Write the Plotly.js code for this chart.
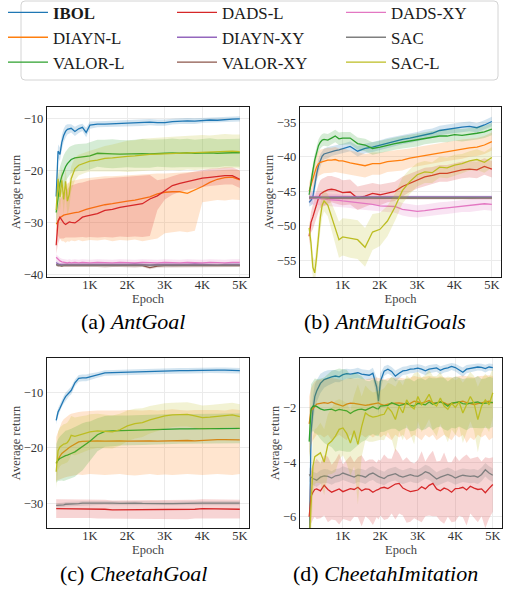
<!DOCTYPE html>
<html><head><meta charset="utf-8">
<script src="https://cdn.plot.ly/plotly-3.0.1.min.js"></script>
<style>body{margin:0;background:#fff;overflow:hidden} #chart{margin-top:-5px}</style>
</head><body>
<div id="chart" style="width:510px;height:595px"></div>
<script>
// ---------- x values (epochs) ----------
const epochsAnt = [100,150,200,250,300,350,400,450,500,600,700,800,900,1000,1200,1400,1600,1800,2000,2200,2400,2600,2800,3000,3200,3400,3600,3800,4000,4200,4400,4600,4800,5000];
const epochsImit = [100,150,200,250,300,400,500,600,700,800,900,1000,1100,1200,1300,1400,1500,1600,1700,1800,1900,1950,2000,2100,2200,2300,2400,2500,2600,2700,2800,2900,3000,3100,3200,3300,3400,3500,3600,3700,3800,3900,4000,4100,4200,4300,4400,4500,4600,4700,4800,4900,5000];
const xTickVals = [1000,2000,3000,4000,5000];
const xTickText = ['1K','2K','3K','4K','5K'];

// ---------- (a) AntGoal ----------
const antGoal_IBOL = [-24.9,-16.2,-16.8,-14.5,-13.2,-12.4,-12.0,-11.9,-11.8,-12.4,-11.9,-11.6,-12.6,-11.2,-11.0,-11.0,-10.95,-10.9,-10.85,-10.8,-10.75,-10.6,-10.7,-10.7,-10.5,-10.4,-10.35,-10.4,-10.3,-10.2,-10.25,-10.1,-10.05,-10.0];
const antGoal_IBOL_sd = [1.5,1.3,1.3,1.4,1.3,1.2,1.0,0.9,0.8,0.9,0.8,0.7,0.9,0.7,0.6,0.6,0.6,0.6,0.6,0.6,0.6,0.6,0.6,0.6,0.55,0.55,0.55,0.55,0.5,0.5,0.5,0.5,0.5,0.5];
const antGoal_DIAYNL = [-30.2,-29.8,-29.0,-28.7,-28.5,-28.4,-28.3,-28.2,-28.1,-28.0,-27.9,-27.6,-27.4,-27.2,-26.8,-26.5,-26.3,-26.0,-25.8,-25.6,-25.3,-25.0,-24.4,-24.1,-24.0,-24.0,-24.3,-23.7,-23.0,-22.2,-21.6,-21.3,-21.2,-21.7];
const antGoal_DIAYNL_lo = [-31.5,-32.5,-33.0,-33.5,-33.5,-33.8,-33.5,-33.6,-33.4,-33.5,-33.3,-33.5,-33.4,-33.3,-33.4,-33.2,-33.5,-33.3,-33.4,-33.2,-33.5,-33.3,-33.0,-32.0,-31.8,-31.6,-31.8,-31.5,-26.0,-25.8,-25.6,-25.7,-25.5,-25.6];
const antGoal_DIAYNL_hi = [-28.0,-26.0,-24.5,-23.5,-23.0,-22.6,-22.4,-22.2,-22.0,-21.8,-21.6,-21.5,-21.4,-21.3,-21.2,-21.0,-21.0,-20.9,-20.8,-20.8,-20.7,-20.6,-20.5,-20.5,-20.4,-20.3,-20.3,-20.2,-20.0,-19.9,-19.8,-19.8,-19.7,-19.8];
const antGoal_VALORL = [-28.0,-24.5,-22.4,-21.0,-20.0,-19.2,-18.6,-18.1,-17.8,-17.5,-17.4,-17.4,-17.3,-17.1,-16.6,-16.7,-16.7,-16.75,-16.7,-16.7,-16.65,-16.7,-16.6,-16.6,-16.55,-16.6,-16.5,-16.6,-16.55,-16.5,-16.6,-16.5,-16.5,-16.5];
const antGoal_VALORL_sd = [3.0,3.2,3.2,3.1,3.0,2.9,2.8,2.7,2.6,2.6,2.6,2.6,2.6,2.6,2.6,2.7,2.8,2.7,2.6,2.7,2.8,2.7,2.6,2.7,2.8,2.7,2.7,2.6,2.7,2.8,2.7,2.6,2.7,2.7];
const antGoal_DADSL = [-34.3,-29.6,-28.9,-29.6,-30.0,-30.3,-30.0,-29.8,-29.9,-30.0,-29.5,-28.9,-28.7,-28.5,-28.2,-27.6,-27.4,-27.0,-26.8,-26.6,-26.3,-25.4,-24.8,-23.8,-22.8,-22.4,-22.1,-21.7,-21.4,-21.25,-21.1,-20.9,-20.9,-21.6];
const antGoal_DADSL_lo = [-36.0,-34.0,-33.0,-33.0,-33.0,-32.8,-32.8,-32.8,-32.8,-32.8,-32.8,-32.7,-32.8,-32.7,-32.8,-32.7,-32.8,-32.6,-32.7,-32.6,-32.7,-32.5,-27.5,-25.5,-24.6,-24.0,-23.6,-23.3,-23.1,-22.9,-22.7,-22.6,-22.6,-23.3];
const antGoal_DADSL_hi = [-32.5,-27.0,-25.5,-25.0,-24.5,-24.0,-23.5,-23.0,-22.8,-22.5,-22.3,-22.2,-22.0,-21.8,-21.6,-21.4,-21.3,-21.2,-21.1,-21.0,-20.9,-20.8,-21.8,-21.5,-21.0,-20.6,-20.4,-20.1,-19.8,-19.6,-19.5,-19.3,-19.3,-19.9];
const antGoal_DIAYNXY = [-37.6,-37.9,-38.0,-38.0,-38.1,-38.0,-38.0,-38.1,-38.0,-38.0,-38.1,-38.0,-38.0,-38.1,-38.0,-38.0,-38.1,-38.0,-38.0,-37.9,-38.0,-38.1,-38.0,-38.0,-38.1,-38.0,-38.0,-37.9,-38.0,-38.0,-38.1,-38.0,-38.0,-38.0];
const antGoal_DIAYNXY_sd = [0.4,0.35,0.3,0.3,0.3,0.3,0.3,0.3,0.3,0.3,0.3,0.3,0.3,0.3,0.3,0.3,0.3,0.3,0.3,0.3,0.3,0.3,0.3,0.3,0.3,0.3,0.3,0.3,0.3,0.3,0.3,0.3,0.3,0.3];
const antGoal_VALORXY = [-38.0,-38.2,-38.2,-38.3,-38.2,-38.2,-38.3,-38.2,-38.2,-38.3,-38.2,-38.2,-38.3,-38.2,-38.2,-38.3,-38.2,-38.2,-38.2,-38.3,-38.2,-38.6,-38.3,-38.2,-38.2,-38.3,-38.2,-38.2,-38.3,-38.2,-38.2,-38.3,-38.2,-38.2];
const antGoal_VALORXY_sd = [0.3,0.3,0.3,0.3,0.3,0.3,0.3,0.3,0.3,0.3,0.3,0.3,0.3,0.3,0.3,0.3,0.3,0.3,0.3,0.3,0.3,0.3,0.3,0.3,0.3,0.3,0.3,0.3,0.3,0.3,0.3,0.3,0.3,0.3];
const antGoal_DADSXY = [-36.6,-37.0,-37.3,-37.5,-37.6,-37.6,-37.7,-37.6,-37.7,-37.6,-37.7,-37.6,-37.7,-37.7,-37.6,-37.7,-37.7,-37.6,-37.7,-37.7,-37.6,-37.7,-37.7,-37.6,-37.7,-37.7,-37.6,-37.7,-37.7,-37.6,-37.7,-37.7,-37.6,-37.6];
const antGoal_DADSXY_sd = [0.6,0.6,0.6,0.6,0.6,0.6,0.6,0.6,0.6,0.6,0.6,0.6,0.6,0.6,0.6,0.6,0.6,0.6,0.6,0.6,0.6,0.6,0.6,0.6,0.6,0.6,0.6,0.6,0.6,0.6,0.6,0.6,0.6,0.6];
const antGoal_SAC = [-38.0,-38.1,-38.1,-38.2,-38.1,-38.1,-38.2,-38.1,-38.1,-38.2,-38.1,-38.1,-38.2,-38.1,-38.1,-38.2,-38.1,-38.1,-38.2,-38.1,-38.1,-38.2,-38.1,-38.1,-38.2,-38.1,-38.1,-38.2,-38.1,-38.1,-38.2,-38.1,-38.1,-38.1];
const antGoal_SAC_sd = [0.3,0.3,0.3,0.3,0.3,0.3,0.3,0.3,0.3,0.3,0.3,0.3,0.3,0.3,0.3,0.3,0.3,0.3,0.3,0.3,0.3,0.3,0.3,0.3,0.3,0.3,0.3,0.3,0.3,0.3,0.3,0.3,0.3,0.3];
const antGoal_SACL = [-27.5,-21.5,-25.0,-21.8,-25.5,-22.0,-25.8,-24.5,-21.5,-19.6,-18.9,-18.6,-18.3,-18.1,-17.9,-17.6,-17.5,-17.3,-17.2,-17.1,-16.9,-16.8,-16.75,-16.7,-16.6,-16.6,-16.5,-16.5,-16.4,-16.4,-16.3,-16.2,-16.2,-16.3];
const antGoal_SACL_sd = [2.5,2.5,2.8,2.6,2.8,2.6,2.8,2.6,2.4,2.2,2.0,2.0,2.0,2.0,2.2,2.4,2.6,2.8,3.0,3.0,3.1,3.1,3.2,3.2,3.2,3.3,3.2,3.3,3.3,3.2,3.3,3.3,3.2,3.3];

// ---------- (b) AntMultiGoals ----------
const antMulti_IBOL = [-46.6,-46.3,-45.8,-44.0,-42.5,-41.3,-40.5,-39.9,-39.6,-39.4,-39.2,-39.1,-39.0,-38.8,-38.5,-39.2,-38.8,-38.6,-38.3,-38.0,-37.8,-37.5,-37.3,-37.1,-36.8,-36.6,-36.2,-36.0,-35.9,-35.7,-35.6,-35.8,-35.4,-34.9];
const antMulti_IBOL_sd = [0.6,0.8,1.0,1.2,1.2,1.0,0.9,0.8,0.8,0.8,0.7,0.7,0.7,0.7,0.7,0.75,0.7,0.7,0.7,0.7,0.7,0.7,0.7,0.7,0.7,0.7,0.7,0.7,0.7,0.7,0.7,0.7,0.7,0.7];
const antMulti_DIAYNL = [-45.0,-44.0,-43.2,-42.3,-41.5,-41.0,-40.8,-40.7,-40.6,-40.5,-40.5,-40.4,-40.6,-40.6,-40.9,-41.1,-41.3,-41.0,-41.0,-40.7,-40.6,-40.5,-40.2,-40.0,-39.8,-39.6,-39.4,-39.2,-39.0,-38.9,-38.7,-38.6,-38.3,-37.8];
const antMulti_DIAYNL_sd = [1.2,1.4,1.6,1.8,1.8,1.8,1.8,1.8,1.8,1.8,1.8,1.8,1.8,1.8,1.8,1.7,1.7,1.6,1.6,1.5,1.5,1.5,1.4,1.4,1.4,1.4,1.4,1.4,1.4,1.4,1.3,1.3,1.3,1.3];
const antMulti_VALORL = [-45.5,-43.5,-42.0,-40.5,-39.2,-38.4,-37.9,-37.6,-37.5,-37.6,-37.3,-37.0,-37.4,-37.3,-37.3,-38.1,-38.3,-38.8,-38.6,-38.3,-38.1,-37.9,-37.7,-37.6,-37.3,-37.1,-37.0,-37.0,-36.8,-36.9,-36.8,-36.6,-36.4,-36.0];
const antMulti_VALORL_sd = [0.9,0.9,0.9,0.9,0.9,0.9,0.9,0.9,0.9,0.9,0.9,0.9,0.9,0.9,0.9,0.9,0.9,0.9,0.9,0.9,0.9,0.9,0.9,0.9,0.9,0.9,0.9,0.9,0.9,0.9,0.9,0.9,0.9,0.9];
const antMulti_DADSL = [-51.5,-49.5,-48.7,-47.7,-46.9,-46.0,-45.4,-45.2,-45.05,-44.8,-44.7,-44.8,-45.0,-45.2,-45.1,-46.0,-45.7,-45.3,-45.5,-45.2,-45.0,-44.3,-43.8,-43.3,-42.9,-42.7,-42.4,-42.4,-42.1,-41.9,-41.8,-41.9,-41.4,-41.8];
const antMulti_DADSL_sd = [1.3,1.5,1.8,2.0,2.0,2.0,2.0,2.0,2.0,2.0,1.9,1.9,1.9,1.8,1.8,1.7,1.6,1.5,1.5,1.4,1.4,1.4,1.3,1.3,1.3,1.2,1.2,1.2,1.2,1.2,1.2,1.2,1.2,1.2];
const antMulti_DIAYNXY = [-45.8,-45.8,-45.8,-45.8,-45.8,-45.8,-45.8,-45.8,-45.8,-45.8,-45.8,-45.8,-45.8,-45.8,-45.8,-45.8,-45.8,-45.8,-45.8,-45.8,-45.8,-45.8,-45.8,-45.8,-45.8,-45.8,-45.8,-45.8,-45.8,-45.8,-45.8,-45.8,-45.8,-45.8];
const antMulti_DIAYNXY_sd = [0.2,0.2,0.2,0.2,0.2,0.2,0.2,0.2,0.2,0.2,0.2,0.2,0.2,0.2,0.2,0.2,0.2,0.2,0.2,0.2,0.2,0.2,0.2,0.2,0.2,0.2,0.2,0.2,0.2,0.2,0.2,0.2,0.2,0.2];
const antMulti_VALORXY = [-46.0,-46.0,-46.0,-46.0,-46.0,-46.0,-46.0,-46.0,-46.0,-46.0,-46.0,-46.0,-46.0,-46.0,-46.0,-46.0,-46.0,-46.0,-46.0,-46.0,-46.0,-46.0,-46.0,-46.0,-46.0,-46.0,-46.0,-46.0,-46.0,-46.0,-46.0,-46.0,-46.0,-46.0];
const antMulti_VALORXY_sd = [0.2,0.2,0.2,0.2,0.2,0.2,0.2,0.2,0.2,0.2,0.2,0.2,0.2,0.2,0.2,0.2,0.2,0.2,0.2,0.2,0.2,0.2,0.2,0.2,0.2,0.2,0.2,0.2,0.2,0.2,0.2,0.2,0.2,0.2];
const antMulti_DADSXY = [-45.9,-46.0,-46.0,-46.0,-46.0,-46.0,-46.1,-46.1,-46.1,-46.2,-46.2,-46.3,-46.3,-46.4,-46.5,-46.7,-46.8,-46.9,-47.1,-47.1,-47.2,-47.6,-47.8,-47.9,-47.8,-47.6,-47.5,-47.4,-47.3,-47.1,-47.1,-47.0,-46.8,-46.9];
const antMulti_DADSXY_sd = [0.8,0.9,0.9,0.9,0.9,0.9,0.9,0.9,0.9,0.9,0.9,0.9,0.9,0.9,0.9,0.9,0.9,0.9,0.9,0.9,0.9,0.9,0.9,0.9,0.9,0.9,0.9,0.9,0.9,0.9,0.9,0.9,0.9,0.9];
const antMulti_SAC = [-45.9,-45.9,-45.9,-45.9,-45.9,-45.9,-45.9,-45.9,-45.9,-45.9,-45.9,-45.9,-45.9,-45.9,-45.9,-45.9,-45.9,-45.9,-45.9,-45.9,-45.9,-45.9,-45.9,-45.9,-45.9,-45.9,-45.9,-45.9,-45.9,-45.9,-45.9,-45.9,-45.9,-45.9];
const antMulti_SAC_sd = [0.2,0.2,0.2,0.2,0.2,0.2,0.2,0.2,0.2,0.2,0.2,0.2,0.2,0.2,0.2,0.2,0.2,0.2,0.2,0.2,0.2,0.2,0.2,0.2,0.2,0.2,0.2,0.2,0.2,0.2,0.2,0.2,0.2,0.2];
const antMulti_SACL = [-50.3,-52.5,-56.0,-56.8,-54.5,-51.5,-48.8,-47.0,-46.4,-47.0,-48.6,-50.3,-52.0,-51.6,-51.8,-52.0,-53.1,-50.9,-50.5,-49.3,-47.3,-44.9,-43.6,-42.6,-42.2,-42.3,-41.5,-41.6,-41.2,-41.0,-40.6,-40.4,-40.8,-40.1];
const antMulti_SACL_sd = [1.0,1.3,1.6,1.8,2.0,2.0,2.0,1.8,1.5,1.6,2.0,2.3,2.6,2.7,2.8,2.8,2.8,2.6,2.4,2.2,2.0,1.9,1.8,1.7,1.6,1.5,1.5,1.5,1.5,1.4,1.4,1.5,1.5,1.5];

// ---------- (c) CheetahGoal ----------
const cheetahGoal_IBOL = [-15.0,-13.5,-12.8,-11.9,-11.3,-10.7,-10.3,-9.9,-9.6,-8.2,-7.4,-7.3,-7.3,-7.1,-6.8,-6.4,-6.35,-6.3,-6.25,-6.2,-6.2,-6.15,-6.15,-6.1,-6.05,-6.0,-6.0,-5.95,-5.95,-5.9,-5.9,-5.9,-5.95,-6.0];
const cheetahGoal_IBOL_sd = [0.7,0.7,0.7,0.7,0.7,0.7,0.7,0.7,0.7,0.6,0.6,0.6,0.6,0.6,0.5,0.5,0.5,0.5,0.5,0.5,0.5,0.5,0.5,0.5,0.5,0.5,0.5,0.5,0.5,0.5,0.5,0.5,0.5,0.5];
const cheetahGoal_DIAYNL = [-22.8,-22.0,-21.5,-21.0,-20.7,-20.4,-20.2,-19.9,-19.7,-19.3,-18.9,-18.8,-18.75,-18.7,-18.7,-18.75,-18.7,-18.7,-18.75,-18.7,-18.7,-18.7,-18.75,-18.7,-18.7,-18.7,-18.65,-18.7,-18.6,-18.6,-18.5,-18.5,-18.5,-18.55];
const cheetahGoal_DIAYNL_lo = [-26.0,-25.8,-25.6,-25.5,-25.4,-25.3,-25.2,-25.1,-25.0,-24.9,-24.8,-24.9,-24.8,-24.7,-24.8,-24.9,-24.8,-24.7,-24.9,-25.0,-24.8,-24.7,-24.9,-24.8,-24.9,-24.8,-24.7,-24.8,-24.9,-24.8,-24.7,-24.8,-24.9,-24.7];
const cheetahGoal_DIAYNL_hi = [-18.0,-17.0,-16.0,-15.3,-14.8,-14.5,-14.2,-14.0,-13.8,-13.6,-13.5,-13.4,-13.3,-13.3,-13.2,-13.2,-13.3,-13.2,-13.1,-13.2,-13.2,-13.1,-13.2,-13.1,-13.0,-13.1,-13.2,-13.1,-13.1,-13.0,-13.1,-13.2,-13.0,-13.1];
const cheetahGoal_VALORL = [-22.8,-22.2,-21.9,-21.7,-21.6,-21.4,-21.3,-21.1,-21.0,-20.7,-20.2,-19.8,-19.3,-18.8,-17.6,-17.0,-16.9,-16.85,-16.8,-16.75,-16.75,-16.7,-16.65,-16.6,-16.6,-16.55,-16.55,-16.5,-16.5,-16.5,-16.5,-16.45,-16.45,-16.45];
const cheetahGoal_VALORL_sd = [3.5,3.8,4.0,4.2,4.4,4.5,4.5,4.5,4.5,4.5,4.4,4.3,4.0,3.6,3.0,2.8,2.8,2.7,2.7,2.7,2.7,2.7,2.7,2.7,2.7,2.7,2.7,2.7,2.7,2.7,2.7,2.7,2.7,2.7];
const cheetahGoal_DADSL = [-31.0,-31.0,-31.1,-31.1,-31.1,-31.0,-31.0,-31.1,-31.0,-31.1,-31.1,-31.0,-31.0,-31.0,-31.1,-31.1,-31.2,-31.2,-31.2,-31.2,-31.1,-31.1,-31.1,-31.1,-31.1,-31.2,-31.2,-31.1,-31.0,-31.0,-31.0,-31.1,-31.1,-31.1];
const cheetahGoal_DADSL_sd = [1.7,1.7,1.7,1.7,1.7,1.7,1.7,1.7,1.7,1.7,1.7,1.7,1.7,1.7,1.7,1.7,1.7,1.7,1.7,1.7,1.7,1.7,1.7,1.7,1.7,1.7,1.7,1.7,1.7,1.7,1.7,1.7,1.7,1.7];
const cheetahGoal_SAC = [-30.4,-30.4,-30.3,-30.3,-30.3,-30.2,-30.2,-30.2,-30.2,-30.1,-30.1,-30.0,-30.0,-30.0,-29.95,-29.9,-30.0,-30.05,-30.0,-30.0,-30.05,-30.1,-30.05,-30.1,-30.1,-30.05,-30.0,-30.05,-30.0,-30.0,-30.05,-30.0,-30.0,-30.0];
const cheetahGoal_SAC_sd = [0.4,0.4,0.4,0.4,0.4,0.4,0.4,0.4,0.4,0.4,0.4,0.4,0.4,0.4,0.4,0.4,0.4,0.4,0.4,0.4,0.4,0.4,0.4,0.4,0.4,0.4,0.4,0.4,0.4,0.4,0.4,0.4,0.4,0.4];
const cheetahGoal_SACL = [-24.3,-20.5,-19.8,-19.5,-19.3,-19.2,-19.0,-18.5,-17.7,-17.9,-17.7,-17.5,-17.3,-17.1,-16.9,-17.0,-17.1,-16.7,-16.0,-15.6,-15.4,-14.9,-14.5,-14.2,-14.0,-13.9,-13.9,-14.2,-14.5,-14.4,-14.3,-14.1,-14.0,-14.3];
const cheetahGoal_SACL_sd = [3.0,3.5,3.5,3.5,3.6,3.6,3.6,3.6,3.5,3.4,3.4,3.3,3.2,3.2,3.1,3.0,3.0,2.9,2.8,2.7,2.6,2.5,2.4,2.3,2.2,2.2,2.2,2.2,2.2,2.2,2.2,2.2,2.2,2.2];

// ---------- (d) CheetahImitation ----------
const cheetahImit_IBOL = [-7.5,-2.9,-2.1,-1.6,-1.4,-1.12,-0.98,-0.92,-0.88,-0.85,-0.88,-0.8,-0.76,-0.78,-0.76,-0.73,-0.78,-0.8,-0.82,-0.75,-1.25,-1.77,-1.05,-0.67,-0.6,-0.68,-0.85,-0.75,-0.66,-0.64,-0.6,-0.59,-0.56,-0.6,-0.66,-0.6,-0.58,-0.55,-0.64,-0.58,-0.55,-0.5,-0.54,-0.62,-0.71,-0.6,-0.57,-0.55,-0.52,-0.53,-0.58,-0.52,-0.54];
const cheetahImit_IBOL_sd = [0.8,0.6,0.5,0.45,0.4,0.35,0.3,0.28,0.25,0.22,0.2,0.2,0.18,0.18,0.18,0.18,0.18,0.18,0.18,0.2,0.35,0.5,0.3,0.18,0.16,0.16,0.2,0.18,0.15,0.15,0.15,0.15,0.14,0.15,0.16,0.15,0.14,0.14,0.15,0.14,0.14,0.13,0.14,0.15,0.17,0.15,0.14,0.13,0.13,0.13,0.14,0.13,0.13];
const cheetahImit_DIAYNL = [-2.6,-2.1,-2.05,-1.95,-1.88,-1.85,-1.82,-1.85,-1.8,-1.86,-1.9,-1.95,-1.88,-1.84,-1.85,-1.87,-1.88,-1.92,-1.9,-1.88,-1.84,-1.83,-1.88,-1.92,-1.88,-1.85,-1.84,-1.83,-1.85,-1.88,-1.85,-1.77,-1.8,-1.84,-1.8,-1.74,-1.82,-1.84,-1.78,-1.82,-1.89,-1.86,-1.84,-1.8,-1.77,-1.82,-1.85,-1.89,-1.86,-1.83,-1.8,-1.77,-1.84];
const cheetahImit_DIAYNL_lo = [-3.8,-3.4,-3.2,-3.1,-3.0,-3.0,-3.1,-3.0,-3.2,-3.1,-3.0,-3.1,-3.2,-3.0,-3.1,-3.2,-3.0,-3.1,-3.0,-3.1,-3.0,-3.0,-3.1,-3.0,-3.1,-3.2,-3.0,-3.1,-3.0,-3.2,-3.1,-3.0,-3.1,-3.2,-3.0,-3.1,-3.0,-3.2,-3.1,-3.0,-3.1,-3.2,-3.0,-3.1,-3.0,-3.3,-3.1,-3.2,-3.0,-3.1,-3.0,-3.2,-3.1];
const cheetahImit_DIAYNL_hi = [-1.6,-1.3,-1.15,-1.05,-1.0,-0.98,-0.95,-0.95,-0.92,-0.95,-0.98,-1.0,-0.95,-0.92,-0.95,-0.93,-0.95,-0.97,-0.95,-0.92,-0.9,-0.92,-0.95,-0.98,-0.93,-0.9,-0.92,-0.9,-0.93,-0.95,-0.9,-0.85,-0.88,-0.9,-0.88,-0.85,-0.88,-0.9,-0.86,-0.88,-0.92,-0.9,-0.88,-0.85,-0.83,-0.86,-0.88,-0.9,-0.86,-0.85,-0.83,-0.82,-0.85];
const cheetahImit_VALORL = [-3.25,-2.05,-1.95,-1.94,-1.96,-2.05,-2.1,-2.08,-2.06,-2.12,-2.07,-2.1,-2.12,-2.22,-2.13,-2.08,-2.06,-2.1,-2.04,-1.97,-2.04,-2.05,-1.95,-1.94,-1.92,-1.83,-1.88,-1.93,-1.9,-1.84,-1.92,-1.95,-1.85,-1.88,-1.9,-1.8,-1.88,-1.83,-1.8,-1.86,-1.95,-1.84,-1.82,-1.8,-1.86,-1.88,-1.84,-1.83,-1.8,-1.86,-1.84,-1.83,-1.81];
const cheetahImit_VALORL_sd = [0.8,0.9,0.9,1.0,1.0,1.1,1.2,1.3,1.4,1.5,1.5,1.5,1.5,1.4,1.4,1.3,1.2,1.1,1.0,1.0,1.0,1.0,0.95,0.95,0.9,0.95,0.9,0.95,0.9,0.9,0.95,0.9,0.9,0.95,0.9,0.9,0.95,0.9,0.9,0.95,0.9,0.9,0.95,0.9,0.9,0.95,0.9,0.9,0.95,0.9,0.9,0.95,0.9];
const cheetahImit_DADSL = [-6.0,-5.25,-5.1,-5.0,-4.98,-5.05,-4.85,-5.0,-5.1,-5.03,-4.98,-5.08,-5.02,-4.97,-5.0,-4.92,-5.05,-4.98,-5.0,-5.1,-5.02,-5.0,-4.95,-4.92,-4.97,-4.88,-4.8,-4.78,-4.95,-5.02,-5.08,-5.05,-5.02,-4.9,-4.98,-4.85,-4.78,-4.98,-5.05,-4.95,-5.0,-5.1,-4.97,-4.96,-4.92,-5.02,-4.88,-4.95,-5.0,-4.98,-5.12,-4.96,-4.82];
const cheetahImit_DADSL_sd = [0.9,1.0,1.0,1.0,1.1,1.0,1.1,1.2,1.0,1.1,1.3,1.0,1.1,1.2,1.0,1.1,1.3,1.0,1.1,1.2,1.0,1.1,1.0,1.2,1.1,1.0,1.3,1.1,1.0,1.2,1.1,1.0,1.1,1.3,1.0,1.1,1.2,1.0,1.1,1.3,1.0,1.1,1.2,1.0,1.1,1.3,1.0,1.1,1.2,1.0,1.3,1.1,1.0];
const cheetahImit_SAC = [-4.45,-4.55,-4.6,-4.62,-4.66,-4.55,-4.5,-4.52,-4.58,-4.5,-4.48,-4.4,-4.45,-4.5,-4.55,-4.48,-4.5,-4.55,-4.45,-4.4,-4.5,-4.52,-4.55,-4.6,-4.5,-4.45,-4.42,-4.5,-4.55,-4.5,-4.46,-4.5,-4.52,-4.45,-4.35,-4.4,-4.5,-4.62,-4.55,-4.5,-4.45,-4.5,-4.58,-4.52,-4.48,-4.5,-4.52,-4.5,-4.55,-4.45,-4.28,-4.4,-4.48];
const cheetahImit_SAC_sd = [0.25,0.25,0.25,0.25,0.25,0.25,0.25,0.25,0.25,0.25,0.25,0.25,0.25,0.25,0.25,0.25,0.25,0.25,0.25,0.25,0.25,0.25,0.25,0.25,0.25,0.25,0.25,0.25,0.25,0.25,0.25,0.25,0.25,0.25,0.25,0.25,0.25,0.25,0.25,0.25,0.25,0.25,0.25,0.25,0.25,0.25,0.25,0.25,0.25,0.25,0.25,0.25,0.25];
const cheetahImit_SACL = [-7.0,-5.5,-4.15,-3.8,-3.75,-3.66,-4.0,-3.35,-3.23,-3.05,-2.8,-2.75,-2.95,-3.3,-2.85,-3.35,-2.7,-2.2,-2.3,-2.35,-2.33,-2.3,-2.28,-2.25,-2.0,-2.15,-2.44,-1.95,-2.2,-1.72,-1.95,-2.05,-1.6,-1.9,-1.75,-1.52,-1.85,-1.95,-1.65,-1.95,-2.07,-1.85,-2.0,-1.8,-2.2,-1.9,-1.6,-1.85,-2.44,-1.95,-1.72,-1.9,-1.46];
const cheetahImit_SACL_sd = [1.2,1.3,1.1,1.0,1.0,1.1,1.2,1.1,1.2,1.3,1.1,1.0,1.1,1.2,1.3,2.2,1.1,1.0,0.95,0.9,0.9,0.9,0.9,0.95,0.9,1.0,1.2,0.95,1.0,0.9,1.0,1.3,0.9,1.0,0.95,0.9,1.0,1.1,0.95,1.0,1.2,0.95,1.0,0.9,1.1,1.0,0.9,1.0,1.2,1.0,0.95,1.0,0.9];

// ---------- methods, colours ----------
const methodNames = ['IBOL','DIAYN-L','VALOR-L','DADS-L','DIAYN-XY','VALOR-XY','DADS-XY','SAC','SAC-L'];
const methodColors = ['#1f77b4','#ff7f0e','#2ca02c','#d62728','#9467bd','#8c564b','#e377c2','#7f7f7f','#bcbd22'];
const legendRowOrder = ['IBOL','DADS-L','DADS-XY','DIAYN-L','DIAYN-XY','SAC','VALOR-L','VALOR-XY','SAC-L'];
const panelCaptions = ['(a) <i>AntGoal</i>','(b) <i>AntMultiGoals</i>','(c) <i>CheetahGoal</i>','(d) <i>CheetahImitation</i>'];

const panels = [
  {x: epochsAnt, s: {
    'IBOL':{m:antGoal_IBOL, sd:antGoal_IBOL_sd},
    'DIAYN-L':{m:antGoal_DIAYNL, lo:antGoal_DIAYNL_lo, hi:antGoal_DIAYNL_hi},
    'VALOR-L':{m:antGoal_VALORL, sd:antGoal_VALORL_sd},
    'DADS-L':{m:antGoal_DADSL, lo:antGoal_DADSL_lo, hi:antGoal_DADSL_hi},
    'DIAYN-XY':{m:antGoal_DIAYNXY, sd:antGoal_DIAYNXY_sd},
    'VALOR-XY':{m:antGoal_VALORXY, sd:antGoal_VALORXY_sd},
    'DADS-XY':{m:antGoal_DADSXY, sd:antGoal_DADSXY_sd},
    'SAC':{m:antGoal_SAC, sd:antGoal_SAC_sd},
    'SAC-L':{m:antGoal_SACL, sd:antGoal_SACL_sd}}},
  {x: epochsAnt, s: {
    'IBOL':{m:antMulti_IBOL, sd:antMulti_IBOL_sd},
    'DIAYN-L':{m:antMulti_DIAYNL, sd:antMulti_DIAYNL_sd},
    'VALOR-L':{m:antMulti_VALORL, sd:antMulti_VALORL_sd},
    'DADS-L':{m:antMulti_DADSL, sd:antMulti_DADSL_sd},
    'DIAYN-XY':{m:antMulti_DIAYNXY, sd:antMulti_DIAYNXY_sd},
    'VALOR-XY':{m:antMulti_VALORXY, sd:antMulti_VALORXY_sd},
    'DADS-XY':{m:antMulti_DADSXY, sd:antMulti_DADSXY_sd},
    'SAC':{m:antMulti_SAC, sd:antMulti_SAC_sd},
    'SAC-L':{m:antMulti_SACL, sd:antMulti_SACL_sd}}},
  {x: epochsAnt, s: {
    'IBOL':{m:cheetahGoal_IBOL, sd:cheetahGoal_IBOL_sd},
    'DIAYN-L':{m:cheetahGoal_DIAYNL, lo:cheetahGoal_DIAYNL_lo, hi:cheetahGoal_DIAYNL_hi},
    'VALOR-L':{m:cheetahGoal_VALORL, sd:cheetahGoal_VALORL_sd},
    'DADS-L':{m:cheetahGoal_DADSL, sd:cheetahGoal_DADSL_sd},
    'SAC':{m:cheetahGoal_SAC, sd:cheetahGoal_SAC_sd},
    'SAC-L':{m:cheetahGoal_SACL, sd:cheetahGoal_SACL_sd}}},
  {x: epochsImit, s: {
    'IBOL':{m:cheetahImit_IBOL, sd:cheetahImit_IBOL_sd},
    'DIAYN-L':{m:cheetahImit_DIAYNL, lo:cheetahImit_DIAYNL_lo, hi:cheetahImit_DIAYNL_hi},
    'VALOR-L':{m:cheetahImit_VALORL, sd:cheetahImit_VALORL_sd},
    'DADS-L':{m:cheetahImit_DADSL, sd:cheetahImit_DADSL_sd},
    'SAC':{m:cheetahImit_SAC, sd:cheetahImit_SAC_sd},
    'SAC-L':{m:cheetahImit_SACL, sd:cheetahImit_SACL_sd}}}
];

const yRanges = [[-40.4,-7.7],[-57.4,-32.8],[-34.5,-3.7],[-6.41,-0.19]];
const yTickVals = [[-40,-30,-20,-10],[-55,-50,-45,-40,-35],[-30,-20,-10],[-6,-4,-2]];

// ---------- geometry: page px (510x590); figure is 5px taller, shifted up 5px ----------
const W = 510, OFF = 5, H = 590 + OFF;
const py = v => (v + OFF);                 // page y -> figure y
const boxes = [ {l:47,r:249,t:107,b:277},{l:300,r:501,t:107,b:277},{l:47,r:249,t:358,b:528},{l:300,r:502,t:358,b:528} ];
const captionPos = [ {x:133,y:321},{x:385,y:321},{x:133,y:573},{x:385,y:573} ];
const SERIF = 'Liberation Serif';

function rgba(hex,a){const n=parseInt(hex.slice(1),16);return `rgba(${n>>16},${(n>>8)&255},${n&255},${a})`;}
function minusText(v){return (v<0?'\u2212':'')+Math.abs(v);}

const traces = [];
panels.forEach((p,i)=>{
  const sfx = i===0 ? '' : String(i+1);
  methodNames.forEach((name,k)=>{
    const d = p.s[name]; if(!d) return;
    const c = methodColors[k];
    const lo = d.lo ? d.lo : d.m.map((v,j)=>v-d.sd[j]);
    const hi = d.hi ? d.hi : d.m.map((v,j)=>v+d.sd[j]);
    traces.push({x:p.x.concat(p.x.slice().reverse()), y:hi.concat(lo.slice().reverse()),
      type:'scatter', mode:'lines', fill:'toself', fillcolor:rgba(c,0.2), line:{width:0,color:rgba(c,0)},
      hoverinfo:'skip', showlegend:false, xaxis:'x'+sfx, yaxis:'y'+sfx});
    traces.push({x:p.x, y:d.m, type:'scatter', mode:'lines', line:{color:c,width:1.3},
      name: name==='IBOL' ? '<b>IBOL</b>' : name, showlegend: i===0,
      legendrank: legendRowOrder.indexOf(name)+1, xaxis:'x'+sfx, yaxis:'y'+sfx});
  });
});

// rounded legend frame (matplotlib-like), page px
const fx0=21, fx1=498, fy0=py(1), fy1=py(80), rr=4;
const framePath = `M${fx0+rr},${fy0} L${fx1-rr},${fy0} Q${fx1},${fy0} ${fx1},${fy0+rr} L${fx1},${fy1-rr} Q${fx1},${fy1} ${fx1-rr},${fy1} L${fx0+rr},${fy1} Q${fx0},${fy1} ${fx0},${fy1-rr} L${fx0},${fy0+rr} Q${fx0},${fy0} ${fx0+rr},${fy0} Z`;

const layout = {width:W, height:H, margin:{l:0,r:0,t:0,b:0}, paper_bgcolor:'#fff', plot_bgcolor:'#fff',
  showlegend:true,
  legend:{orientation:'h', x:21/W, y:1, xanchor:'left', yanchor:'top', bgcolor:'rgba(0,0,0,0)',
    borderwidth:0, font:{family:SERIF,size:16.8,color:'#1a1a1a'},
    entrywidth:114, entrywidthmode:'pixels', itemwidth:40},
  shapes:[{type:'path', xref:'paper', yref:'paper', layer:'below',
    path: framePath.replace(/(-?\d+(\.\d+)?),(-?\d+(\.\d+)?)/g,(m,a,_,b)=>`${a/W},${1-b/H}`),
    line:{color:'#d4d4d4', width:1}, fillcolor:'#fff'}],
  annotations:[], font:{family:SERIF}};

boxes.forEach((b,i)=>{
  const sfx = i===0 ? '' : String(i+1);
  layout['xaxis'+sfx] = {domain:[b.l/W,b.r/W], range:[-145,5245], anchor:'y'+sfx,
    tickvals:xTickVals, ticktext:xTickText, showgrid:true, gridcolor:'#ebebeb', gridwidth:1,
    zeroline:false, showline:true, mirror:true, linecolor:'#1a1a1a', linewidth:1.2, ticks:'',
    ticklabelstandoff:-4,
    tickfont:{family:SERIF,size:12.5,color:'#333'},
    title:{text:'Epoch', font:{family:SERIF,size:12.5,color:'#444'}, standoff:0}};
  layout['yaxis'+sfx] = {domain:[1-py(b.b)/H,1-py(b.t)/H], range:yRanges[i], anchor:'x'+sfx,
    tickvals:yTickVals[i], ticktext:yTickVals[i].map(minusText), showgrid:true, gridcolor:'#ebebeb', gridwidth:1,
    zeroline:false, showline:true, mirror:true, linecolor:'#1a1a1a', linewidth:1.2, ticks:'',
    tickfont:{family:SERIF,size:12.5,color:'#333'},
    title:{text:'Average return', font:{family:SERIF,size:12.5,color:'#444'}, standoff:0}};
  layout.annotations.push({xref:'paper', yref:'paper', x:captionPos[i].x/W, y:1-py(captionPos[i].y)/H,
    xanchor:'center', yanchor:'middle', showarrow:false, text:panelCaptions[i],
    font:{family:SERIF,size:22,color:'#000'}});
});

Plotly.newPlot('chart', traces, layout, {displayModeBar:false, staticPlot:true});
</script>
</body></html>
